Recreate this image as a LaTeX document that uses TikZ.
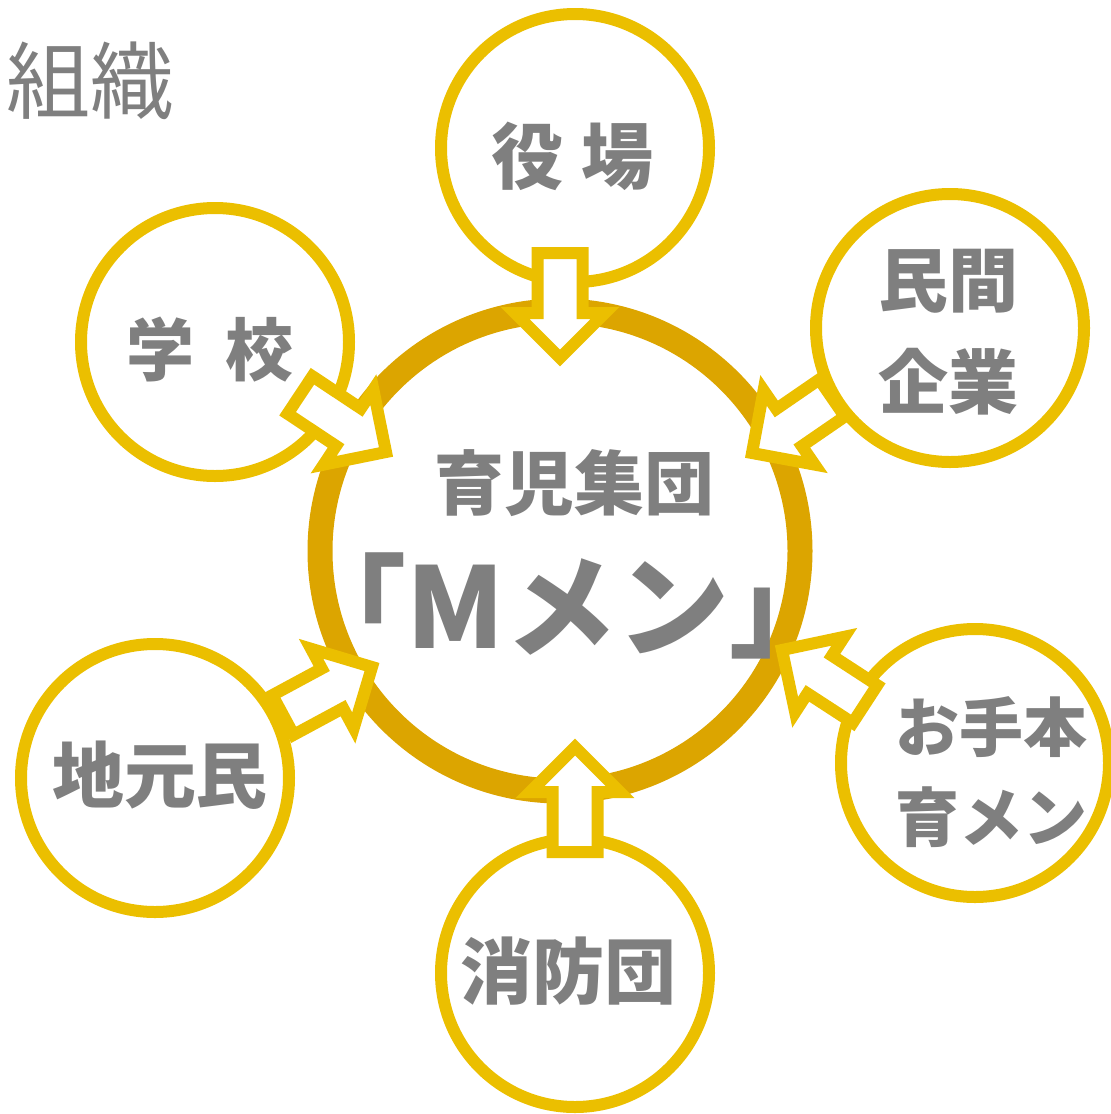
\documentclass[tikz,border=0pt]{standalone}
\usepackage{fontspec}
\newfontfamily\jpfont{Noto Sans CJK JP}
\usetikzlibrary{calc}
\definecolor{satgold}{HTML}{EBBF00}
\definecolor{coregold}{HTML}{DCA500}
\definecolor{labelgray}{HTML}{7F7F7F}
\tikzset{ sat/.style = {circle, draw=satgold, line width=12pt, minimum size=268pt, inner sep=0pt} }
\tikzset{ core/.style = {circle, draw=coregold, line width=25pt, minimum size=480pt, inner sep=0pt} }
\tikzset{ word/.style = {text=labelgray, font=\jpfont\bfseries\fontsize{70}{100}\selectfont, align=center, inner sep=0pt} }
\tikzset{ push/.style = {draw=satgold, fill=white, line width=12pt} }
% block arrow from tail #1 to tip #2
\newcommand{\pusharrow}[2]{%
  \draw[style=push] ($(#1)!22.5pt!90:(#2)$) -- ($(#2)!45pt!(#1)!22.5pt!-90:(#1)$)
    -- ($(#2)!45pt!(#1)!45pt!-90:(#1)$) -- (#2) -- ($(#2)!45pt!(#1)!45pt!90:(#1)$)
    -- ($(#2)!45pt!(#1)!22.5pt!90:(#1)$) -- ($(#1)!22.5pt!-90:(#2)$) -- cycle;}

\begin{document}
\begin{tikzpicture}[x=1pt,y=-1pt]
    \useasboundingbox (0,0) rectangle (1111,1114);
            \node [style=core] (M) at (560,551) {};
                    \node [style=sat] (yaku) at (575,148) {};
                    \node [style=sat] (kigyo) at (950,328) {};
                    \node [style=sat] (gakko) at (215,342) {};
                    \node [style=sat] (jimoto) at (155,778) {};
                    \node [style=sat] (shobo) at (575,973) {};
                    \node [style=sat] (otehon) at (975,763) {};
            % labels
            \node [text=labelgray, font=\jpfont\fontsize{84}{84}\selectfont, inner sep=0pt] (title) at (90,81) {組織};
                    \node [style=word, font=\jpfont\bfseries\fontsize{72}{72}\selectfont] (yaku-t) at (572,156) {役\hspace{18pt}場};
                    \node [style=word] (kigyo-t) at (948,332) {民間\\[2pt]企業};
                    \node [style=word, font=\jpfont\bfseries\fontsize{68}{68}\selectfont] (gakko-t) at (210,350) {学\hspace{32pt}校};
                    \node [style=word] (M-t) at (574,483) {育児集団};
                    \node [style=word, font=\jpfont\bfseries\fontsize{112}{112}\selectfont] (M-n) at (568,606) {「Mメン」};
                    \node [style=word, font=\jpfont\bfseries\fontsize{72}{72}\selectfont] (jimoto-t) at (160,775) {地元民};
                    \node [style=word, font=\jpfont\bfseries\fontsize{64}{64}\selectfont] (otehon-t) at (991,772) {お手本\\[26pt]育メン};
                    \node [style=word, font=\jpfont\bfseries\fontsize{72}{72}\selectfont] (shobo-t) at (568,971) {消防団};
            % arrows
            \coordinate (yaku-a) at (560,253);  \coordinate (yaku-b) at (560,358);
            \coordinate (shobo-a) at (575,852); \coordinate (shobo-b) at (575,747);
            \coordinate (gakko-a) at (300,395); \coordinate (gakko-b) at (386,452);
            \coordinate (kigyo-a) at (832,398); \coordinate (kigyo-b) at (752,453);
            \coordinate (jimoto-a) at (283,715); \coordinate (jimoto-b) at (372,667);
            \coordinate (otehon-a) at (865,704); \coordinate (otehon-b) at (782,650);
                    \pusharrow{yaku-a}{yaku-b}
                    \pusharrow{shobo-a}{shobo-b}
                    \pusharrow{gakko-a}{gakko-b}
                    \pusharrow{kigyo-a}{kigyo-b}
                    \pusharrow{jimoto-a}{jimoto-b}
                    \pusharrow{otehon-a}{otehon-b}
            \end{tikzpicture}
\end{document}
